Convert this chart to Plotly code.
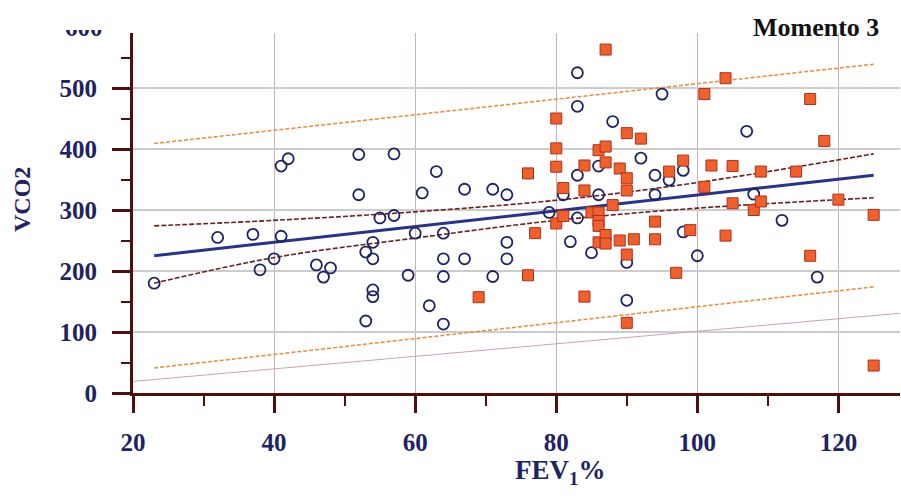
import plotly.graph_objects as go

# ---- data ----
circle_x = [23, 32, 37, 38, 40, 41, 41, 42, 46, 47, 48, 52, 52, 53, 53, 54, 54, 54, 54, 55,
            57, 57, 59, 60, 61, 62, 63, 64, 64, 64, 64, 67, 67, 71, 71, 73, 73, 73, 79, 81,
            82, 83, 83, 83, 83, 85, 86, 86, 88, 90, 90, 92, 94, 94, 95, 96, 98, 98, 100, 107,
            108, 112, 117]
circle_y = [180, 255, 260, 202, 220, 257, 372, 384, 210, 190, 205, 391, 325, 231, 118, 247, 220, 169, 158, 287,
            392, 291, 193, 262, 328, 143, 363, 262, 220, 191, 113, 334, 220, 334, 191, 325, 247, 220, 296, 325,
            248, 525, 470, 357, 287, 230, 372, 325, 445, 214, 152, 385, 357, 325, 490, 349, 365, 264, 225, 429,
            326, 283, 190]

square_x = [69, 76, 76, 77, 80, 80, 80, 80, 81, 81, 84, 84, 84, 85, 86, 86, 86, 86, 86, 87,
            87, 87, 87, 87, 88, 89, 89, 90, 90, 90, 90, 90, 91, 92, 94, 94, 96, 97, 98, 99,
            101, 101, 102, 104, 104, 105, 105, 108, 109, 109, 114, 116, 116, 118, 120, 125, 125]
square_y = [157, 360, 193, 262, 450, 401, 371, 278, 336, 290, 373, 332, 158, 296, 398, 296, 282, 274, 247, 563,
            404, 378, 259, 245, 308, 368, 250, 426, 352, 332, 227, 115, 252, 417, 281, 252, 363, 197, 381, 267,
            490, 338, 373, 516, 258, 372, 311, 300, 363, 314, 363, 482, 225, 413, 317, 292, 45]

fit_x = [23, 125]
fit_y = [225, 357]

ci_x = [23, 40, 60, 80, 100, 125]
ci_upper = [274, 283, 297, 316, 345, 392]
ci_lower = [180, 222, 254, 283, 303, 320]

pred_x = [23, 125]
pred_upper = [409, 539]
pred_lower = [41, 174]

ref_x = [20, 129]
ref_y = [19, 131]

x_ticks = [20, 40, 60, 80, 100, 120]
y_ticks = [0, 100, 200, 300, 400, 500]

# ---- styling ----
NAVY = "#1e2363"
AXIS = "#4e0f0f"
FONT = "Liberation Serif"

fig = go.Figure()

fig.add_trace(go.Scatter(x=ref_x, y=ref_y, mode="lines",
                         line=dict(color="#c9a2bd", width=1), hoverinfo="skip"))
for yy in (pred_upper, pred_lower):
    fig.add_trace(go.Scatter(x=pred_x, y=yy, mode="lines",
                             line=dict(color="#f0883a", width=1.5, dash="4px,2px"), hoverinfo="skip"))
for yy in (ci_upper, ci_lower):
    fig.add_trace(go.Scatter(x=ci_x, y=yy, mode="lines", line_shape="spline",
                             line=dict(color="#6e1f1f", width=1.6, dash="5px,2px"), hoverinfo="skip"))
fig.add_trace(go.Scatter(x=fit_x, y=fit_y, mode="lines",
                         line=dict(color="#28338c", width=3)))

fig.add_trace(go.Scatter(x=circle_x, y=circle_y, mode="markers",
                         marker=dict(symbol="circle-open", size=11, color=NAVY,
                                     line=dict(width=1.8, color=NAVY))))
fig.add_trace(go.Scatter(x=square_x, y=square_y, mode="markers",
                         marker=dict(symbol="square", size=11, color="#f25f2a",
                                     line=dict(width=1, color="#a8321c"))))

W, H = 901, 498
L, R, T, B = 133, 1, 33, 105
pw = W - L - R
ph = H - T - B
xmax = 20 + pw / 7.054
ymax = ph / 0.61

tickfont = dict(family=FONT, size=25, color=NAVY, weight="bold")

fig.update_layout(
    width=W, height=H,
    margin=dict(l=L, r=R, t=T, b=B, pad=0),
    paper_bgcolor="white", plot_bgcolor="white",
    showlegend=False,
    xaxis=dict(range=[20, xmax], tickmode="array", tickvals=x_ticks,
               ticktext=[str(v) for v in x_ticks],
               showgrid=True, gridcolor="#cfb0b0", gridwidth=1,
               zeroline=False, showline=True, linecolor=AXIS, linewidth=3,
               ticks="outside", ticklen=17, tickwidth=3, tickcolor=AXIS,
               ticklabelstandoff=8,
               minor=dict(dtick=10, tick0=0, ticks="outside", ticklen=10, tickwidth=2,
                          tickcolor=AXIS, showgrid=False),
               tickfont=tickfont, fixedrange=True),
    yaxis=dict(range=[0, ymax], tickmode="array", tickvals=y_ticks,
               ticktext=[str(v) for v in y_ticks],
               showgrid=True, gridcolor="#cccccc", gridwidth=1.5,
               zeroline=False, showline=True, linecolor=AXIS, linewidth=3,
               ticks="outside", ticklen=18, tickwidth=3, tickcolor=AXIS,
               ticklabelstandoff=10,
               minor=dict(dtick=50, tick0=0, ticks="outside", ticklen=9, tickwidth=2,
                          tickcolor=AXIS, showgrid=False),
               tickfont=tickfont, fixedrange=True),
)

def px_x(p):
    return (p - L) / pw

def px_y(p):
    return (H - B - p) / ph

fig.add_annotation(text="VCO2", textangle=-90, x=px_x(22), y=px_y(200),
                   xref="paper", yref="paper", showarrow=False,
                   xanchor="center", yanchor="middle",
                   font=dict(family=FONT, size=24, color=NAVY, weight="bold"))
fig.add_annotation(text="FEV<sub>1</sub>%", x=px_x(560), y=px_y(472),
                   xref="paper", yref="paper", showarrow=False,
                   xanchor="center", yanchor="middle",
                   font=dict(family=FONT, size=27, color=NAVY, weight="bold"))
fig.add_annotation(text="Momento 3", x=px_x(816), y=px_y(27),
                   xref="paper", yref="paper", showarrow=False,
                   xanchor="center", yanchor="middle",
                   font=dict(family=FONT, size=26, color="#111111", weight="bold"))
# partially hidden top tick label, as in the source
fig.add_annotation(text="600", x=px_x(105), y=px_y(393 - 600 * 0.61),
                   xref="paper", yref="paper",
                   showarrow=False, xanchor="right", yanchor="middle",
                   font=tickfont)
fig.add_annotation(text=" ", x=px_x(55), y=px_y(0), xref="paper", yref="paper",
                   showarrow=False, xanchor="left", yanchor="top",
                   width=60, height=30, bgcolor="white", borderpad=0, borderwidth=0)

fig.write_html("out.html", config={"displayModeBar": False},
               post_script="document.body.style.margin='0';")
